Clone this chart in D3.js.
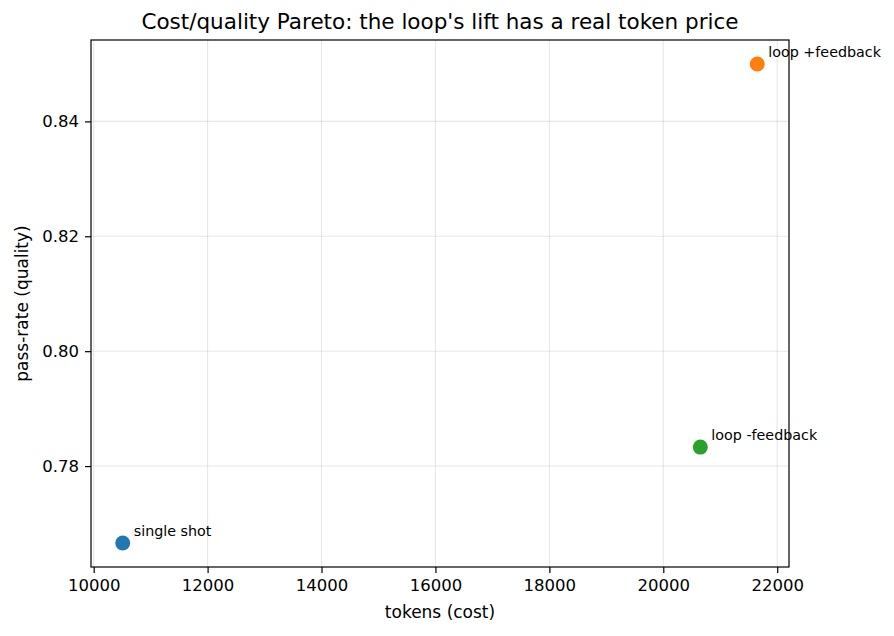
<!DOCTYPE html>
<html>
<head>
<meta charset="utf-8">
<script src="https://cdn.jsdelivr.net/npm/d3@7"></script>
<style>
  body { margin: 0; background: #fff; }
  svg { font-family: "DejaVu Sans", sans-serif; }
</style>
</head>
<body>
<script>
// données
const configs = ["single shot", "loop -feedback", "loop +feedback"];
const tokens = [10510, 20650, 21650];
const passRate = [0.7666, 0.7833, 0.8500];
const colors = ["#1f77b4", "#2ca02c", "#ff7f0e"];
const xTicks = [10000, 12000, 14000, 16000, 18000, 20000, 22000];
const yTicks = [0.78, 0.80, 0.82, 0.84];

const W = 894, H = 636;
const m = { left: 91, right: 789, top: 40, bottom: 567 };

const svg = d3.select("body").append("svg")
    .attr("width", W)
    .attr("height", H);

// marges de 5% comme matplotlib
function pad(ext) {
  const r = ext[1] - ext[0];
  return [ext[0] - 0.05 * r, ext[1] + 0.05 * r];
}

const x = d3.scaleLinear().domain(pad(d3.extent(tokens))).range([m.left, m.right]);
const y = d3.scaleLinear().domain(pad(d3.extent(passRate))).range([m.bottom, m.top]);

// grille
svg.append("g").selectAll("line")
  .data(xTicks)
  .enter().append("line")
  .attr("x1", d => x(d)).attr("x2", d => x(d))
  .attr("y1", m.top).attr("y2", m.bottom)
  .attr("stroke", "#b0b0b0").attr("stroke-opacity", 0.3).attr("stroke-width", 1.1);

svg.append("g").selectAll("line")
  .data(yTicks)
  .enter().append("line")
  .attr("x1", m.left).attr("x2", m.right)
  .attr("y1", d => y(d)).attr("y2", d => y(d))
  .attr("stroke", "#b0b0b0").attr("stroke-opacity", 0.3).attr("stroke-width", 1.1);

// axes
const xAxis = svg.append("g")
  .attr("transform", "translate(0," + m.bottom + ")")
  .call(d3.axisBottom(x).tickValues(xTicks).tickFormat(d3.format("d")).tickSize(6).tickPadding(6));

const yAxis = svg.append("g")
  .attr("transform", "translate(" + m.left + ",0)")
  .call(d3.axisLeft(y).tickValues(yTicks).tickFormat(d3.format(".2f")).tickSize(6).tickPadding(6));

[xAxis, yAxis].forEach(a => {
  a.select(".domain").remove();
  a.selectAll(".tick line").attr("stroke", "#000").attr("stroke-width", 1.2);
  a.selectAll(".tick text")
    .attr("fill", "#000")
    .style("font-size", "16.5px")
    .style("font-family", "DejaVu Sans");
});

// cadre
svg.append("rect")
  .attr("x", m.left).attr("y", m.top)
  .attr("width", m.right - m.left).attr("height", m.bottom - m.top)
  .attr("fill", "none").attr("stroke", "#000").attr("stroke-width", 1.2);

// points
svg.append("g").selectAll("circle")
  .data(configs)
  .enter().append("circle")
  .attr("cx", (d, i) => x(tokens[i]))
  .attr("cy", (d, i) => y(passRate[i]))
  .attr("r", 7.5)
  .attr("fill", (d, i) => colors[i]);

// annotations
svg.append("g").selectAll("text")
  .data(configs)
  .enter().append("text")
  .attr("x", (d, i) => x(tokens[i]) + 11)
  .attr("y", (d, i) => y(passRate[i]) - 7)
  .style("font-size", "14.3px")
  .attr("fill", "#000")
  .text(d => d);

// titres
svg.append("text")
  .attr("x", (m.left + m.right) / 2)
  .attr("y", 29)
  .attr("text-anchor", "middle")
  .style("font-size", "21.5px")
  .text("Cost/quality Pareto: the loop's lift has a real token price");

svg.append("text")
  .attr("x", (m.left + m.right) / 2)
  .attr("y", 618)
  .attr("text-anchor", "middle")
  .style("font-size", "17px")
  .text("tokens (cost)");

svg.append("text")
  .attr("transform", "translate(28," + (m.top + m.bottom) / 2 + ") rotate(-90)")
  .attr("text-anchor", "middle")
  .style("font-size", "17px")
  .text("pass-rate (quality)");
</script>
</body>
</html>
